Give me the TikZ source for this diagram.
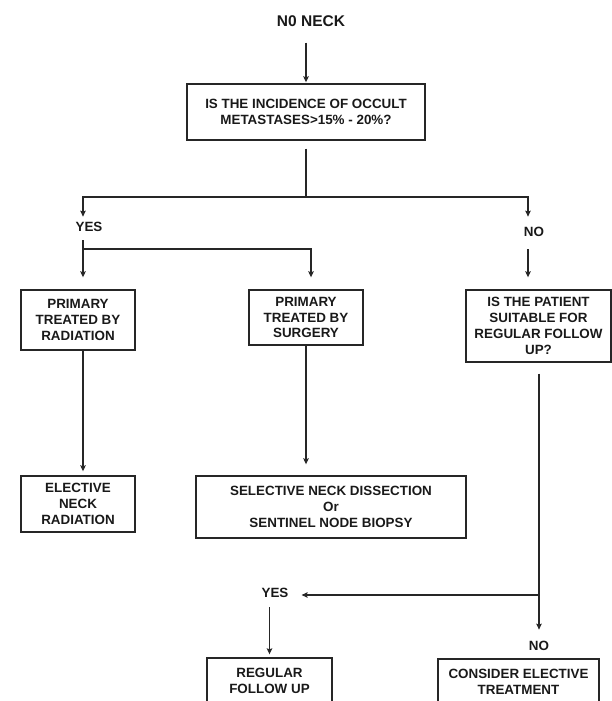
\documentclass[tikz,border=0pt]{standalone}
\usepackage{fontspec}
\setmainfont{Liberation Sans}
\usetikzlibrary{arrows.meta}
\tikzset{>={Stealth[length=6pt,width=5.5pt,inset=1pt]}}
\tikzset{
    flowbox/.style={draw=black!85, line width=1.4pt, inner sep=0pt, align=center,
        font=\bfseries\fontsize{13.4}{15.8}\selectfont, text=black!90},
    flowlabel/.style={inner sep=0pt, font=\bfseries\fontsize{13.4}{15.8}\selectfont, text=black!90},
    flowline/.style={draw=black!85, line width=1.1pt},
}
\begin{document}
\begin{tikzpicture}[x=1pt,y=1pt]
    \clip (0,0) rectangle (612,-701);
    % question on top
    \node[flowlabel, font=\bfseries\fontsize{15.5}{18}\selectfont] (neck) at (311,-21) {N0 NECK};
    \node[flowbox, minimum width=238pt, minimum height=56pt] (incid) at (306,-112) {IS THE INCIDENCE OF OCCULT\\METASTASES>15\% - 20\%?};
    \coordinate (split) at (306,-197);
    \coordinate (lbr) at (83,-197);
    \coordinate (rbr) at (528,-197);
    \node[flowlabel] (yesa) at (89,-227) {YES};
    \node[flowlabel] (noa) at (534,-232) {NO};
    \coordinate (ysplit) at (83,-249);
    \coordinate (ybr) at (311,-249);
    % second row
    \node[flowbox, minimum width=114pt, minimum height=60pt] (radia) at (78,-320) {PRIMARY\\TREATED BY\\RADIATION};
    \node[flowbox, minimum width=114pt, minimum height=55pt] (surge) at (306,-317.5) {PRIMARY\\TREATED BY\\SURGERY};
    \node[flowbox, minimum width=145pt, minimum height=72pt] (suit) at (538.5,-326) {IS THE PATIENT\\SUITABLE FOR\\REGULAR FOLLOW\\UP?};
    % third row
    \node[flowbox, minimum width=114pt, minimum height=56pt] (elect) at (78,-504) {ELECTIVE\\NECK\\RADIATION};
    \node[flowbox, minimum width=270pt, minimum height=62pt] (selec) at (331,-507) {SELECTIVE NECK DISSECTION\\Or\\SENTINEL NODE BIOPSY};
    \coordinate (nsplit) at (539,-595);
    \node[flowlabel] (yesb) at (275,-593) {YES};
    \node[flowlabel] (nob) at (539,-646) {NO};
    % bottom row
    \node[flowbox, minimum width=125pt, minimum height=46pt] (regul) at (269.5,-681) {REGULAR\\FOLLOW UP};
    \node[flowbox, minimum width=161pt, minimum height=46pt] (consi) at (518.5,-682) {CONSIDER ELECTIVE\\TREATMENT};
    % connectors
    \draw[flowline, ->, shorten <=16pt, shorten >=1pt] (incid.north |- neck.south) -- (incid.north);
    \draw[flowline, shorten <=8pt] (incid.south) -- (split);
    \draw[flowline, ->, shorten >=5.4pt] (split) -- (lbr) -- (lbr |- yesa.north);
    \draw[flowline, ->, shorten >=10.4pt] (split) -- (rbr) -- (rbr |- noa.north);
    \draw[flowline, ->, shorten <=8.4pt, shorten >=12pt] (ysplit |- yesa.south) -- (ysplit) -- (ybr) -- (ybr |- surge.north);
    \draw[flowline, ->, shorten >=12pt] (ysplit) -- (ysplit |- radia.north);
    \draw[flowline, ->, shorten <=12.4pt, shorten >=12pt] (rbr |- noa.south) -- (rbr |- suit.north);
    \draw[flowline, ->, shorten >=4pt] (ysplit |- radia.south) -- (ysplit |- elect.north);
    \draw[flowline, ->, shorten >=11pt] (split |- surge.south) -- (split |- selec.north);
    \draw[flowline, ->, shorten <=11pt, shorten >=11.4pt] (nsplit |- suit.south) -- (nsplit |- nob.north);
    \draw[flowline, ->, shorten >=13pt] (nsplit) -- (nsplit -| yesb.east);
    \draw[flowline, ->, shorten <=9.4pt, shorten >=3pt] (regul.north |- yesb.south) -- (regul.north);
\end{tikzpicture}
\end{document}
